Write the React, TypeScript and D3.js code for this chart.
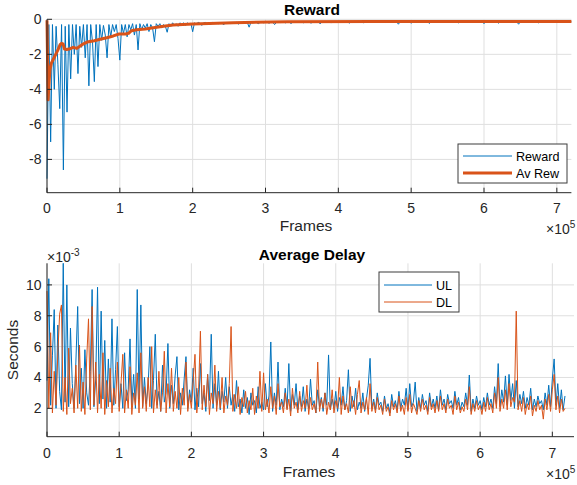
import React from 'react';
import * as d3 from 'd3';

const FONT = '"Liberation Sans", Arial, Helvetica, sans-serif';
const BLUE = '#0072BD';
const ORANGE = '#D95319';
const AXIS = '#262626';
const GRID = '#dfdfdf';

// tick labels
const xTicks = [0, 1, 2, 3, 4, 5, 6, 7]; // x 10^5 frames
const rewardTicks = [-8, -6, -4, -2, 0];
const delayTicks = [2, 4, 6, 8, 10]; // x 10^-3 s

// reward per episode, one sample every REWARD_STEP frames
const REWARD_STEP = 2500;
const rewardValues = [
  -9.1, -0.3, -7.0, -0.3, -4.0, -0.4, -2.6, -5.1, -0.3, -8.6,
  -0.4, -5.3, -0.3, -3.4, -0.3, -2.0, -0.3, -3.1, -0.4, -1.6,
  -0.3, -2.2, -0.3, -3.8, -0.3, -1.3, -3.56, -0.3, -2.7, -0.3,
  -1.2, -0.35, -0.9, -2.2, -0.3, -1.0, -0.3, -0.7, -0.3, -1.1,
  -2.33, -0.3, -0.8, -0.3, -1.0, -0.3, -0.6, -0.25, -0.9, -0.3,
  -1.75, -0.25, -0.6, -0.3, -0.5, -0.25, -0.7, -0.3, -0.5, -1.28,
  -0.25, -0.4, -0.25, -0.5, -0.3, -0.4, -0.74, -0.25, -0.4, -0.2,
  -0.35, -0.25, -0.4, -0.2, -0.3, -0.2, -0.35, -0.2, -0.3, -0.22,
  -0.71,
  -0.2, -0.28, -0.18, -0.22, -0.35, -0.2, -0.18, -0.25, -0.2, -0.3,
  -0.18, -0.22, -0.2, -0.26, -0.18, -0.2, -0.32, -0.19, -0.21, -0.18,
  -0.24, -0.18, -0.2, -0.17, -0.28, -0.19, -0.2, -0.17, -0.22, -0.18,
  -0.45, -0.17, -0.2, -0.18, -0.17, -0.25, -0.18, -0.16, -0.2, -0.17,
  -0.18, -0.22, -0.16, -0.17, -0.3, -0.17, -0.16, -0.19, -0.16, -0.17,
  -0.2, -0.16, -0.15, -0.24, -0.16, -0.17, -0.15, -0.18, -0.16, -0.15,
  -0.2, -0.15, -0.16, -0.15, -0.22, -0.15, -0.14, -0.16, -0.15, -0.26,
  -0.14, -0.15, -0.16, -0.14, -0.15, -0.2, -0.14, -0.15, -0.14, -0.18,
  -0.14, -0.15, -0.14, -0.16, -0.14, -0.22, -0.14, -0.15, -0.13, -0.16,
  -0.14, -0.15, -0.14, -0.2, -0.14, -0.13, -0.15, -0.14, -0.13, -0.16,
  -0.14, -0.13, -0.15, -0.14, -0.13, -0.18, -0.13, -0.14, -0.13, -0.15,
  -0.13, -0.14, -0.28, -0.13, -0.14, -0.13, -0.15, -0.13, -0.14, -0.22,
  -0.13, -0.14, -0.13, -0.16, -0.13, -0.14, -0.13, -0.15, -0.13, -0.24,
  -0.13, -0.14, -0.13, -0.15, -0.13, -0.14, -0.13, -0.16, -0.13, -0.14,
  -0.13, -0.15, -0.13, -0.14, -0.13, -0.2, -0.13, -0.14, -0.13, -0.15,
  -0.13, -0.14, -0.13, -0.16, -0.13, -0.14, -0.13, -0.15, -0.13, -0.25,
  -0.13, -0.14, -0.13, -0.15, -0.13, -0.14, -0.13, -0.22, -0.13, -0.14,
  -0.13, -0.15, -0.13, -0.14, -0.13, -0.16, -0.13, -0.14, -0.28, -0.13,
  -0.14, -0.13, -0.15, -0.13, -0.14, -0.13, -0.15, -0.13, -0.14, -0.2,
  -0.13, -0.14, -0.13, -0.15, -0.13, -0.14, -0.13, -0.15, -0.13, -0.14,
  -0.13, -0.15, -0.13, -0.14, -0.13, -0.15, -0.13, -0.14,
];

// running average reward
const avRewFrames = [
  0, 800, 1500, 2500, 4000, 6000, 9000, 12000, 15000, 18000, 20000, 22000,
  24000, 27000, 32000, 36000, 41000, 48000, 55000, 65000, 73000, 82000,
  91000, 99000, 108000, 112000, 116000, 123000, 135000, 146000, 160000,
  173000, 200000, 256000, 330000, 450000, 600000, 720000,
];
const avRewValues = [
  -0.05, -2.5, -4.6, -3.8, -2.9, -2.5, -2.25, -2.0, -1.75, -1.45, -1.37, -1.4,
  -1.7, -1.72, -1.68, -1.6, -1.66, -1.45, -1.3, -1.22, -1.14, -1.05,
  -0.95, -0.84, -0.84, -0.8, -0.65, -0.6, -0.55, -0.48, -0.4,
  -0.33, -0.27, -0.19, -0.14, -0.13, -0.13, -0.125,
];

// average delay (x 10^-3 s), one sample every DELAY_STEP frames
const DELAY_STEP = 2500;
const ulDelay = [
  3.8, 10.4, 2.2, 5.4, 8.4, 2.0, 7.4, 3.1, 1.9, 11.4, 2.4, 10.0, 2.1, 7.2, 3.6, 2.0, 5.0, 8.6, 2.3, 4.6,
  2.0, 5.8, 3.0, 2.2, 4.4, 9.7, 2.1, 3.9, 9.85, 2.3, 8.3, 2.6, 6.4, 2.0, 5.2, 2.4, 7.8, 2.2, 4.5, 7.3,
  2.1, 3.6, 2.0, 5.6, 2.5, 3.2, 6.5, 2.2, 4.2, 2.0, 9.7, 2.6, 8.7, 2.1, 4.0, 2.3, 3.4, 6.0, 2.0, 3.8,
  6.8, 2.2, 3.1, 1.8, 4.8, 2.4, 3.0, 6.2, 2.0, 3.5, 2.3, 4.1, 5.35, 1.9, 3.0, 2.2, 3.9, 5.35, 2.0, 3.2,
  2.4, 4.6, 1.9, 3.3, 2.1, 4.9, 2.3, 3.0, 1.8, 4.2, 2.5, 6.8, 2.0, 3.6, 2.2, 4.4, 1.9, 3.1, 2.4, 4.0,
  2.0, 3.4, 2.2, 2.9, 1.8, 3.8, 2.1, 2.6, 1.7, 3.2, 2.0, 2.7, 1.6, 3.0, 2.2, 2.5, 1.7, 3.4, 2.0, 2.4,
  1.9, 3.6, 2.1, 2.8, 6.3, 1.8, 3.0, 2.2, 5.0, 1.9, 2.6, 2.1, 3.3, 2.0, 4.9, 1.8, 2.9, 2.2, 3.6, 1.9,
  2.8, 2.1, 3.4, 1.8, 2.6, 2.0, 3.9, 2.2, 2.5, 1.7, 3.2, 2.1, 2.7, 1.8, 3.0, 2.2, 5.46, 1.9, 2.6, 2.0,
  3.1, 1.8, 2.7, 2.2, 3.4, 1.9, 2.5, 4.5, 1.8, 2.8, 2.1, 3.3, 1.9, 2.4, 2.0, 3.0, 1.8, 2.6, 3.5, 5.24,
  2.0, 2.6, 1.9, 3.0, 2.2, 2.4, 1.8, 2.8, 2.0, 2.3, 1.7, 2.9, 2.1, 2.5, 1.9, 3.1, 2.0, 2.6, 2.2, 3.3,
  1.9, 3.6, 2.1, 2.4, 3.7, 1.8, 2.7, 2.0, 2.9, 2.2, 2.5, 1.8, 3.0, 2.1, 2.6, 2.0, 2.8, 1.9, 3.2, 2.2,
  2.6, 1.9, 2.9, 2.3, 2.5, 2.0, 3.1, 2.2, 2.7, 1.9, 2.4, 2.1, 3.0, 2.2, 4.16, 1.8, 2.6, 2.0, 2.8, 2.2,
  2.5, 1.9, 2.7, 2.1, 3.0, 2.2, 2.6, 2.0, 3.4, 2.3, 4.9, 2.1, 3.2, 2.4, 4.1, 2.2, 4.2, 2.5, 3.6, 2.0,
  3.8, 2.1, 2.9, 2.3, 3.1, 2.0, 2.7, 2.2, 3.3, 1.9, 2.6, 2.1, 2.8, 2.3, 2.5, 1.9, 3.0, 2.2, 3.5, 2.1,
  3.9, 5.2, 2.2, 3.6, 2.0, 3.2, 1.9, 2.8,
];
const dlDelay = [
  9.6, 2.0, 6.9, 1.7, 4.4, 2.2, 5.6, 8.1, 8.7, 1.8, 4.0, 1.6, 5.9, 2.3, 3.3, 1.7, 4.8, 2.0, 6.1, 1.8,
  3.7, 1.6, 5.2, 7.8, 1.9, 8.6, 2.2, 5.0, 1.7, 4.2, 2.0, 5.6, 1.6, 3.8, 2.1, 4.6, 1.7, 3.3, 2.3, 5.0,
  1.8, 3.6, 5.5, 1.7, 3.2, 2.0, 4.7, 1.6, 3.0, 2.2, 4.3, 1.7, 5.6, 2.0, 3.4, 1.8, 4.0, 2.1, 6.0, 1.7,
  3.2, 2.0, 4.4, 1.8, 3.0, 5.7, 1.7, 3.6, 2.1, 4.6, 1.8, 3.1, 2.0, 4.0, 1.6, 3.3, 2.2, 5.0, 1.8, 2.9,
  2.0, 3.8, 5.5, 1.7, 3.2, 7.0, 1.9, 3.5, 2.1, 4.2, 1.6, 3.0, 2.3, 4.8, 1.8, 3.1, 2.0, 4.0, 1.7, 2.8,
  2.2, 3.6, 7.3, 1.8, 2.9, 2.0, 3.4, 1.6, 2.7, 2.1, 3.1, 1.7, 2.5, 1.9, 3.3, 1.6, 2.8, 2.0, 4.4, 1.8,
  4.3, 1.9, 2.6, 1.7, 3.4, 2.0, 2.8, 1.6, 3.6, 2.1, 2.4, 1.7, 3.0, 1.9, 2.6, 1.5, 3.3, 2.0, 2.4, 1.7,
  3.1, 1.8, 2.5, 2.0, 3.5, 1.6, 2.7, 1.9, 2.3, 1.7, 5.0, 1.8, 2.6, 2.0, 3.0, 1.6, 2.4, 1.9, 3.2, 1.7,
  2.5, 2.0, 4.0, 1.6, 2.8, 1.9, 2.3, 1.7, 3.4, 2.0, 2.5, 1.6, 2.9, 3.8, 1.7, 2.4, 1.9, 2.7, 1.6, 3.6,
  1.8, 2.4, 1.7, 2.7, 1.9, 2.2, 1.6, 2.6, 1.8, 2.1, 1.5, 2.5, 1.9, 2.3, 1.7, 2.8, 1.8, 2.2, 1.6, 2.7,
  1.8, 2.9, 1.7, 2.3, 2.0, 1.6, 2.5, 1.8, 2.6, 1.9, 2.2, 1.6, 2.7, 1.9, 2.3, 1.7, 2.5, 1.8, 2.8, 1.9,
  2.3, 1.7, 2.6, 2.0, 2.2, 1.6, 2.8, 1.9, 2.4, 1.7, 2.1, 1.8, 2.6, 1.9, 3.4, 1.6, 2.3, 1.8, 2.5, 1.9,
  2.2, 1.6, 2.4, 1.8, 2.7, 1.9, 2.3, 1.7, 3.0, 2.0, 4.0, 1.8, 2.6, 2.0, 3.2, 1.9, 3.6, 2.1, 2.7, 2.4,
  8.3, 1.9, 2.5, 1.8, 2.7, 1.6, 2.3, 1.9, 2.8, 1.5, 2.2, 1.8, 2.5, 1.9, 2.2, 1.3, 2.6, 1.9, 2.9, 1.8,
  3.2, 4.2, 1.9, 2.8, 1.7, 2.6, 1.8, 2.0,
];

type Box = { left: number; right: number; top: number; bottom: number };

const Grid = ({
  box, x, y, yTicks,
}: {
  box: Box;
  x: d3.ScaleLinear<number, number>;
  y: d3.ScaleLinear<number, number>;
  yTicks: number[];
}) => (
  <g>
    {xTicks.map(t => (
      <line key={'gx' + t} x1={x(t * 1e5)} x2={x(t * 1e5)} y1={box.top} y2={box.bottom} stroke={GRID} strokeWidth={1} />
    ))}
    {yTicks.map(t => (
      <line key={'gy' + t} x1={box.left} x2={box.right} y1={y(t)} y2={y(t)} stroke={GRID} strokeWidth={1} />
    ))}
  </g>
);

const Axes = ({
  box, x, y, yTicks, tickY,
}: {
  box: Box;
  x: d3.ScaleLinear<number, number>;
  y: d3.ScaleLinear<number, number>;
  yTicks: number[];
  tickY: number;
}) => (
  <g fontFamily={FONT} fill={AXIS}>
    <line x1={box.left} x2={box.right} y1={box.bottom} y2={box.bottom} stroke={AXIS} strokeWidth={1} />
    <line x1={box.left} x2={box.left} y1={box.top} y2={box.bottom} stroke={AXIS} strokeWidth={1} />
    {xTicks.map(t => (
      <g key={'tx' + t}>
        <line x1={x(t * 1e5)} x2={x(t * 1e5)} y1={box.bottom} y2={box.bottom - 5} stroke={AXIS} />
        <text x={x(t * 1e5)} y={tickY} fontSize={14} textAnchor="middle">{t}</text>
      </g>
    ))}
    {yTicks.map(t => (
      <g key={'ty' + t}>
        <line x1={box.left} x2={box.left + 5} y1={y(t)} y2={y(t)} stroke={AXIS} />
        <text x={box.left - 5.5} y={y(t) + 5} fontSize={14} textAnchor="end">{t}</text>
      </g>
    ))}
  </g>
);

export default function App() {
  // top panel: reward
  const topBox: Box = { left: 47, right: 571.4, top: 19.3, bottom: 192.7 };
  const xTop = d3.scaleLinear().domain([0, 720000]).range([topBox.left, topBox.right]);
  const yTop = d3.scaleLinear().domain([-9.9, 0]).range([topBox.bottom, topBox.top]);

  // bottom panel: delay
  const botBox: Box = { left: 47, right: 574, top: 263.3, bottom: 436.7 };
  const xBot = d3.scaleLinear().domain([0, 730000]).range([botBox.left, botBox.right]);
  const yBot = d3.scaleLinear().domain([0.16, 11.4]).range([botBox.bottom, botBox.top]);

  const rewardLine = d3.line<number>()
    .x((_, i) => xTop(i * REWARD_STEP))
    .y(d => yTop(d));
  const avLine = d3.line<number>()
    .x((_, i) => xTop(avRewFrames[i]))
    .y(d => yTop(d));
  const delayLine = d3.line<number>()
    .x((_, i) => xBot(i * DELAY_STEP))
    .y(d => yBot(d));

  return (
    <svg width={577} height={485} style={{ position: 'absolute', left: 0, top: 0, background: '#fff' }}>
      <rect width={577} height={485} fill="#fff" />

      {/* Reward */}
      <Grid box={topBox} x={xTop} y={yTop} yTicks={rewardTicks} />
      <path d={rewardLine(rewardValues) ?? ''} fill="none" stroke={BLUE} strokeWidth={1} strokeLinejoin="round" />
      <path d={avLine(avRewValues) ?? ''} fill="none" stroke={ORANGE} strokeWidth={3} strokeLinejoin="round" />
      <Axes box={topBox} x={xTop} y={yTop} yTicks={rewardTicks} tickY={213} />
      <text x={312} y={15} fontFamily={FONT} fontSize={15.5} fontWeight="bold" textAnchor="middle" fill="#000">Reward</text>
      <text x={306} y={231} fontFamily={FONT} fontSize={15.5} textAnchor="middle" fill={AXIS}>Frames</text>
      <text x={546} y={234} fontFamily={FONT} fontSize={14} fill={AXIS}>
        ×10<tspan dy={-6} fontSize={10}>5</tspan>
      </text>
      <g fontFamily={FONT} fontSize={12.6} fill="#000">
        <rect x={458} y={144} width={109} height={39} fill="#fff" stroke="#3c3c3c" strokeWidth={1} />
        <line x1={463} x2={512} y1={156} y2={156} stroke={BLUE} strokeWidth={1} />
        <text x={516} y={160.5}>Reward</text>
        <line x1={463} x2={512} y1={173} y2={173} stroke={ORANGE} strokeWidth={3} />
        <text x={516} y={177.5}>Av Rew</text>
      </g>

      {/* Average Delay */}
      <Grid box={botBox} x={xBot} y={yBot} yTicks={delayTicks} />
      <path d={delayLine(ulDelay) ?? ''} fill="none" stroke={BLUE} strokeWidth={1} strokeLinejoin="round" />
      <path d={delayLine(dlDelay) ?? ''} fill="none" stroke={ORANGE} strokeWidth={1} strokeLinejoin="round" />
      <Axes box={botBox} x={xBot} y={yBot} yTicks={delayTicks} tickY={457.5} />
      <text x={312} y={259.5} fontFamily={FONT} fontSize={15.5} fontWeight="bold" textAnchor="middle" fill="#000">Average Delay</text>
      <text x={309} y={476.5} fontFamily={FONT} fontSize={15.5} textAnchor="middle" fill={AXIS}>Frames</text>
      <text x={546} y={479} fontFamily={FONT} fontSize={14} fill={AXIS}>
        ×10<tspan dy={-6} fontSize={10}>5</tspan>
      </text>
      <text x={47} y={262} fontFamily={FONT} fontSize={14} fill={AXIS}>
        ×10<tspan dy={-6} fontSize={10}>-3</tspan>
      </text>
      <text
        x={18}
        y={350}
        transform="rotate(-90, 18, 350)"
        fontFamily={FONT}
        fontSize={15.5}
        textAnchor="middle"
        fill={AXIS}
      >
        Seconds
      </text>
      <g fontFamily={FONT} fontSize={12.6} fill="#000">
        <rect x={379} y={272} width={80} height={40} fill="#fff" stroke="#3c3c3c" strokeWidth={1} />
        <line x1={384} x2={432} y1={285} y2={285} stroke={BLUE} strokeWidth={1} />
        <text x={436} y={289.5}>UL</text>
        <line x1={384} x2={432} y1={302} y2={302} stroke={ORANGE} strokeWidth={1} />
        <text x={436} y={306.5}>DL</text>
      </g>
    </svg>
  );
}
